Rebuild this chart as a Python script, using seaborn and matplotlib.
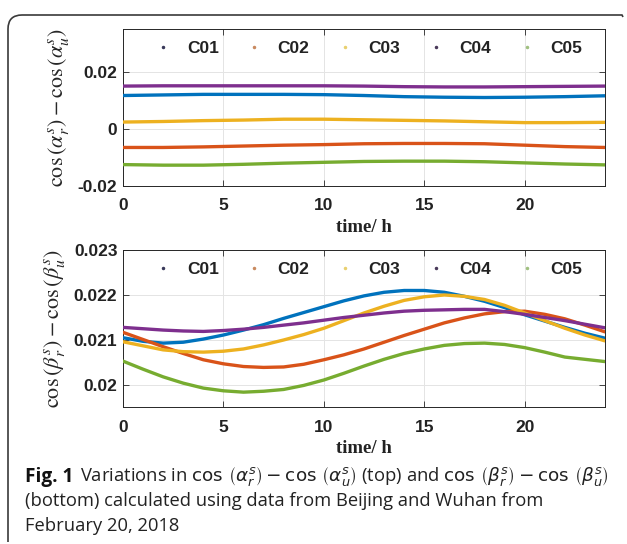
import numpy as np
import pandas as pd
import matplotlib
matplotlib.use("Agg")
import matplotlib.pyplot as plt
from matplotlib.lines import Line2D
from matplotlib.path import Path
from matplotlib.patches import PathPatch
import seaborn as sns

# ---------------- data ----------------
time_top = [0, 2, 4, 6, 8, 10, 12, 14, 16, 18, 20, 22, 24]
time_bot = list(range(0, 25))
sats = ["C01", "C02", "C03", "C04", "C05"]

# top panel: cos(alpha_r^s) - cos(alpha_u^s)
alpha_C01 = [0.0117, 0.0119, 0.0121, 0.0121, 0.0121, 0.0120, 0.0117, 0.0113, 0.0111, 0.0110, 0.0111, 0.0113, 0.0116]
alpha_C02 = [-0.0065, -0.0065, -0.0063, -0.0060, -0.0057, -0.0055, -0.0052, -0.0051, -0.0051, -0.0052, -0.0057, -0.0062, -0.0065]
alpha_C03 = [0.0024, 0.0026, 0.0029, 0.0031, 0.0034, 0.0034, 0.0032, 0.0030, 0.0028, 0.0025, 0.0022, 0.0022, 0.0023]
alpha_C04 = [0.0150, 0.0151, 0.0151, 0.0151, 0.0151, 0.0151, 0.0150, 0.0148, 0.0147, 0.0147, 0.0148, 0.0149, 0.0150]
alpha_C05 = [-0.0125, -0.0127, -0.0127, -0.0124, -0.0120, -0.0117, -0.0114, -0.0113, -0.0113, -0.0115, -0.0119, -0.0123, -0.0126]

# bottom panel: cos(beta_r^s) - cos(beta_u^s), hourly
beta_C01 = [0.02105, 0.02097, 0.02093, 0.02095, 0.02102, 0.02111, 0.02122, 0.02134, 0.02148, 0.02161,
            0.02174, 0.02187, 0.02198, 0.02206, 0.02210, 0.02210, 0.02206, 0.02197, 0.02186, 0.02172,
            0.02156, 0.02142, 0.02128, 0.02115, 0.02104]
beta_C02 = [0.02117, 0.02101, 0.02085, 0.02070, 0.02056, 0.02047, 0.02041, 0.02039, 0.02040, 0.02046,
            0.02056, 0.02067, 0.02080, 0.02095, 0.02110, 0.02124, 0.02138, 0.02149, 0.02158, 0.02163,
            0.02164, 0.02157, 0.02147, 0.02133, 0.02118]
beta_C03 = [0.02096, 0.02087, 0.02078, 0.02074, 0.02073, 0.02075, 0.02080, 0.02089, 0.02100, 0.02112,
            0.02126, 0.02143, 0.02160, 0.02175, 0.02188, 0.02196, 0.02200, 0.02197, 0.02190, 0.02177,
            0.02160, 0.02143, 0.02126, 0.02111, 0.02098]
beta_C04 = [0.02128, 0.02125, 0.02122, 0.02120, 0.02119, 0.02121, 0.02124, 0.02128, 0.02133, 0.02138,
            0.02144, 0.02150, 0.02155, 0.02160, 0.02164, 0.02166, 0.02167, 0.02168, 0.02168, 0.02163,
            0.02157, 0.02150, 0.02143, 0.02135, 0.02127]
beta_C05 = [0.02053, 0.02035, 0.02018, 0.02004, 0.01993, 0.01987, 0.01984, 0.01986, 0.01990, 0.01999,
            0.02011, 0.02026, 0.02042, 0.02057, 0.02070, 0.02080, 0.02088, 0.02092, 0.02093, 0.02090,
            0.02083, 0.02073, 0.02062, 0.02057, 0.02052]

x_ticks = [0, 5, 10, 15, 20]
top_yticks = [-0.02, 0, 0.02]
top_yticklabels = ["-0.02", "0", "0.02"]
bot_yticks = [0.020, 0.021, 0.022, 0.023]
bot_yticklabels = ["0.02", "0.021", "0.022", "0.023"]

colors = ["#0072BD", "#D95319", "#EDB120", "#7E2F8E", "#77AC30"]
legend_marker_colors = ["#3a3a5a", "#c98a60", "#e8d070", "#4a3a5a", "#a0c080"]

def long_df(times, series):
    rows = []
    for s, vals in zip(sats, series):
        for t, v in zip(times, vals):
            rows.append((t, v, s))
    return pd.DataFrame(rows, columns=["time", "value", "sat"])

df_top = long_df(time_top, [alpha_C01, alpha_C02, alpha_C03, alpha_C04, alpha_C05])
df_bot = long_df(time_bot, [beta_C01, beta_C02, beta_C03, beta_C04, beta_C05])

# ---------------- style ----------------
sns.set_style("white")
plt.rcParams["font.family"] = ["Liberation Sans", "DejaVu Sans"]

W, H = 627, 544
fig = plt.figure(figsize=(W / 100, H / 100), dpi=100)

def ax_rect(l, t, r, b):
    return [l / W, 1 - b / H, (r - l) / W, (b - t) / H]

ax1 = fig.add_axes(ax_rect(123, 29, 605, 186))
ax2 = fig.add_axes(ax_rect(123, 250, 605, 407))

pal = dict(zip(sats, colors))
spine_col = "#262626"

def style_axes(ax, df, ylim, yticks, ylabels, ylabel_tex, leg_y):
    sns.lineplot(data=df, x="time", y="value", hue="sat", palette=pal,
                 linewidth=2.4, ax=ax, legend=False, zorder=3)
    ax.set_xlim(0, 24)
    ax.set_ylim(*ylim)
    ax.set_xticks(x_ticks)
    ax.set_xticklabels([str(v) for v in x_ticks])
    ax.set_yticks(yticks)
    ax.set_yticklabels(ylabels)
    ax.grid(True, color="#e4e4e4", linewidth=0.7, zorder=0)
    ax.set_axisbelow(True)
    for sp in ax.spines.values():
        sp.set_visible(True)
        sp.set_color(spine_col)
        sp.set_linewidth(0.7)
    ax.tick_params(direction="in", length=4, width=0.6, color=spine_col,
                   top=True, right=True, bottom=True, left=True,
                   labelsize=12.5, labelcolor="#222222")
    ax.tick_params(axis="x", pad=9)
    ax.tick_params(axis="y", pad=4)
    for lab in ax.get_xticklabels() + ax.get_yticklabels():
        lab.set_fontweight("bold")
    ax.set_xlabel("time/ h", fontsize=13.5, fontweight="bold",
                  family=["Liberation Serif"], labelpad=4, color="#222222")
    ax.set_ylabel(ylabel_tex, fontsize=16, math_fontfamily="stix",
                  family=["Liberation Serif"], labelpad=5)
    handles = [Line2D([], [], linestyle="none", marker=".", markersize=3,
                      color=c) for c in legend_marker_colors]
    leg = ax.legend(handles, sats, loc="center", bbox_to_anchor=(0.5, leg_y),
                    ncol=5, frameon=False, handlelength=2.0,
                    handletextpad=0.35, columnspacing=1.05,
                    prop={"family": "Liberation Sans", "weight": "bold", "size": 12.5})
    for t in leg.get_texts():
        t.set_color("#222222")

style_axes(ax1, df_top, (-0.02, 0.035), top_yticks, top_yticklabels,
           r"$\cos\left(\alpha_r^s\right)-\cos\left(\alpha_u^s\right)$", 0.875)
style_axes(ax2, df_bot, (0.01951, 0.023), bot_yticks, bot_yticklabels,
           r"$\cos\left(\beta_r^s\right)-\cos\left(\beta_u^s\right)$", 0.875)

# ---------------- border (rounded top-left corner) ----------------
r = 14
x0, y0, x1, y1 = 8, 15, 622, 542
pts = [(x0, y1), (x0, y0 + r), (x0, y0), (x0 + r, y0), (x1, y0), (x1 + 1, y0 + 2)]
codes = [Path.MOVETO, Path.LINETO, Path.CURVE3, Path.CURVE3, Path.LINETO, Path.LINETO]
fpts = [(px / W, 1 - py / H) for px, py in pts]
fig.patches.append(PathPatch(Path(fpts, codes), transform=fig.transFigure,
                             fill=False, edgecolor="#3a3a3a", linewidth=1.2))

# ---------------- caption ----------------
cap_font = ["Open Sans", "DejaVu Sans"]
cap_size = 13.2
fig.canvas.draw()
renderer = fig.canvas.get_renderer()

y_line1 = 1 - 477 / H
t0 = fig.text(25 / W, y_line1, "Fig. 1", fontsize=cap_size + 0.5, fontweight="bold",
              family=cap_font, va="center", ha="left", color="#111111")
bb = t0.get_window_extent(renderer)
x_next = (bb.x1 + 7) / W
fig.text(x_next, y_line1,
         r"Variations in $\cos\,\left(\alpha_r^s\right)-\cos\,\left(\alpha_u^s\right)$ (top) and "
         r"$\cos\,\left(\beta_r^s\right)-\cos\,\left(\beta_u^s\right)$",
         fontsize=cap_size, family=cap_font, math_fontfamily="dejavusans",
         va="center", ha="left", color="#222222")
fig.text(25 / W, 1 - 501 / H,
         "(bottom) calculated using data from Beijing and Wuhan from",
         fontsize=cap_size, family=cap_font, va="center", ha="left", color="#222222")
fig.text(25 / W, 1 - 526 / H, "February 20, 2018",
         fontsize=cap_size, family=cap_font, va="center", ha="left", color="#222222")

fig.savefig("out.png", dpi=100)
